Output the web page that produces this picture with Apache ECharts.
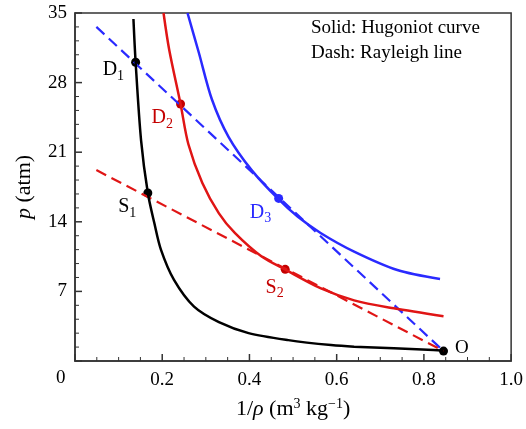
<!DOCTYPE html>
<html>
<head>
<meta charset="utf-8">
<script src="https://cdn.jsdelivr.net/npm/echarts@6/dist/echarts.min.js"></script>
<style>
  html, body { margin: 0; padding: 0; background: #fff; }
  #chart { width: 526px; height: 429px; }
</style>
</head>
<body>
<div id="chart"></div>
<script>
// Hugoniot curves (solid): [1/rho, p]
const hugoniot1 = [[0.134, 34.4], [0.139, 30.05], [0.1515, 22.2], [0.167, 16.9], [0.182, 13.85],
  [0.197, 11.2], [0.227, 8.15], [0.273, 5.46], [0.33, 3.9], [0.398, 2.8],
  [0.489, 2.1], [0.587, 1.6], [0.64, 1.44], [0.822, 1.1], [0.845, 1.0]]
const hugoniot2 = [[0.203, 35.0], [0.216, 31.3], [0.242, 25.85], [0.26, 21.8], [0.292, 17.9],
  [0.33, 14.85], [0.367, 12.85], [0.428, 10.5], [0.481, 9.22], [0.564, 7.3], [0.64, 6.1],
  [0.731, 5.3], [0.845, 4.5]]
const hugoniot3 = [[0.258, 35.0], [0.284, 31.0], [0.314, 26.3], [0.352, 22.55], [0.405, 19.2],
  [0.466, 16.3], [0.511, 14.5], [0.564, 12.85], [0.64, 11.0], [0.739, 9.15], [0.837, 8.25]]

// Rayleigh lines (dashed)
const rayleighD = [[0.049, 33.6], [0.845, 1.0]]
const rayleighS = [[0.049, 19.2], [0.845, 1.0]]

// marked states
const pointsBlack = [['D', '1', 0.139, 30.05], ['S', '1', 0.167, 16.9]]
const pointsRed = [['D', '2', 0.242, 25.85], ['S', '2', 0.482, 9.22]]
const pointsBlue = [['D', '3', 0.467, 16.35]]
const pointO = [0.845, 1.0]

const xTicks = [0, 0.2, 0.4, 0.6, 0.8, 1.0]
const yTicks = [0, 7, 14, 21, 28, 35]
const xMinorSplit = 4
const yMinorSplit = 5

const BLACK = '#000000'
const RED = '#e01515'
const RED_DARK = '#c40000'
const BLUE = '#2a2aff'
const AXIS = '#333333'
const FONT = '"Liberation Serif", "Times New Roman", serif'

// tick marks (inward) built from the tick lists: [x, y, dir(0 = x axis, 1 = y axis), major]
const tickData = []
xTicks.forEach((v, i) => {
  tickData.push([v, yTicks[0], 0, 1])
  if (i < xTicks.length - 1) {
    const step = (xTicks[i + 1] - v) / xMinorSplit
    for (let k = 1; k < xMinorSplit; k++) tickData.push([v + k * step, yTicks[0], 0, 0])
  }
})
yTicks.forEach((v, i) => {
  tickData.push([xTicks[0], v, 1, 1])
  if (i < yTicks.length - 1) {
    const step = (yTicks[i + 1] - v) / yMinorSplit
    for (let k = 1; k < yMinorSplit; k++) tickData.push([xTicks[0], v + k * step, 1, 0])
  }
})

const chart = echarts.init(document.getElementById('chart'))

const subRich = (color) => ({
  a: { fontFamily: FONT, fontSize: 20, color: color, lineHeight: 22 },
  b: { fontFamily: FONT, fontSize: 14, color: color, lineHeight: 22, padding: [12, 0, 0, 0] }
})

function pointSeries(list, color, labelColor, offsets) {
  return {
    type: 'scatter',
    symbolSize: 9,
    itemStyle: { color: color, opacity: 1 },
    data: list.map((p, i) => ({
      value: [p[2], p[3]],
      label: {
        show: true,
        position: 'left',
        offset: offsets[i],
        formatter: '{a|' + p[0] + '}{b|' + p[1] + '}',
        rich: subRich(labelColor)
      }
    }))
  }
}

const lineStyleSolid = (c) => ({ color: c, width: 2.5 })
const lineStyleDash = (c) => ({ color: c, width: 2.2, type: [11, 6] })

const option = {
  animation: false,
  grid: {
    left: 75, right: 13, top: 13, bottom: 68,
    show: true, borderColor: AXIS, borderWidth: 1.5, backgroundColor: 'transparent'
  },
  xAxis: {
    type: 'value',
    min: xTicks[0],
    max: xTicks[xTicks.length - 1],
    interval: 0.2,
    name: '1/{i|ρ} (m{s|3} kg{s|−1})',
    nameLocation: 'middle',
    nameGap: 36,
    nameTextStyle: {
      fontFamily: FONT, fontSize: 22, color: BLACK,
      rich: {
        i: { fontFamily: FONT, fontSize: 22, fontStyle: 'italic', color: BLACK },
        s: { fontFamily: FONT, fontSize: 14, color: BLACK, padding: [0, 0, 10, 0] }
      }
    },
    axisLine: { show: true, lineStyle: { color: AXIS, width: 1.5 } },
    axisTick: { show: false },
    splitLine: { show: false },
    axisLabel: {
      fontFamily: FONT, fontSize: 19, color: BLACK, margin: 10,
      formatter: (v) => (v === 0 ? '' : v.toFixed(1))
    }
  },
  yAxis: {
    type: 'value',
    min: yTicks[0],
    max: yTicks[yTicks.length - 1],
    interval: 7,
    name: '{i|p} (atm)',
    nameLocation: 'middle',
    nameGap: 40,
    nameRotate: 90,
    nameTextStyle: {
      fontFamily: FONT, fontSize: 22, color: BLACK,
      rich: { i: { fontFamily: FONT, fontSize: 22, fontStyle: 'italic', color: BLACK } }
    },
    axisLine: { show: true, lineStyle: { color: AXIS, width: 1.5 } },
    axisTick: { show: false },
    splitLine: { show: false },
    axisLabel: {
      fontFamily: FONT, fontSize: 19, color: BLACK, margin: 8,
      formatter: (v) => (v === 0 ? '' : String(v))
    }
  },
  graphic: [
    { type: 'text', left: 56, top: 369, style: { text: '0', font: '19px ' + FONT, fill: BLACK } },
    { type: 'text', left: 311, top: 19, style: { text: 'Solid: Hugoniot curve', font: '19px ' + FONT, fill: BLACK } },
    { type: 'text', left: 311, top: 44, style: { text: 'Dash: Rayleigh line', font: '19px ' + FONT, fill: BLACK } }
  ],
  series: [
    {
      type: 'custom',
      silent: true,
      clip: false,
      data: tickData,
      renderItem: (params, api) => {
        const pt = api.coord([api.value(0), api.value(1)])
        const len = api.value(3) ? 7 : 4
        const vertical = api.value(2) === 0
        return {
          type: 'line',
          shape: vertical
            ? { x1: pt[0], y1: pt[1], x2: pt[0], y2: pt[1] - len }
            : { x1: pt[0], y1: pt[1], x2: pt[0] + len, y2: pt[1] },
          style: { stroke: AXIS, lineWidth: api.value(3) ? 1.5 : 1 }
        }
      }
    },
    { type: 'line', data: rayleighD, showSymbol: false, lineStyle: lineStyleDash(BLUE) },
    { type: 'line', data: rayleighS, showSymbol: false, lineStyle: lineStyleDash(RED) },
    { type: 'line', data: hugoniot1, smooth: 0.3, showSymbol: false, lineStyle: lineStyleSolid(BLACK) },
    { type: 'line', data: hugoniot2, smooth: 0.3, showSymbol: false, lineStyle: lineStyleSolid(RED) },
    { type: 'line', data: hugoniot3, smooth: 0.3, showSymbol: false, lineStyle: lineStyleSolid(BLUE) },
    pointSeries(pointsBlack, BLACK, BLACK, [[-2, 8], [-2, 14]]),
    pointSeries(pointsRed, RED_DARK, RED_DARK, [[2, 14], [8, 18]]),
    pointSeries(pointsBlue, BLUE, BLUE, [[2, 14]]),
    {
      type: 'scatter',
      symbolSize: 9,
      itemStyle: { color: BLACK, opacity: 1 },
      data: [{
        value: pointO,
        label: {
          show: true, position: 'right', offset: [2, -3],
          formatter: 'O',
          fontFamily: FONT, fontSize: 19, color: BLACK
        }
      }]
    }
  ]
}

chart.setOption(option)
</script>
</body>
</html>
